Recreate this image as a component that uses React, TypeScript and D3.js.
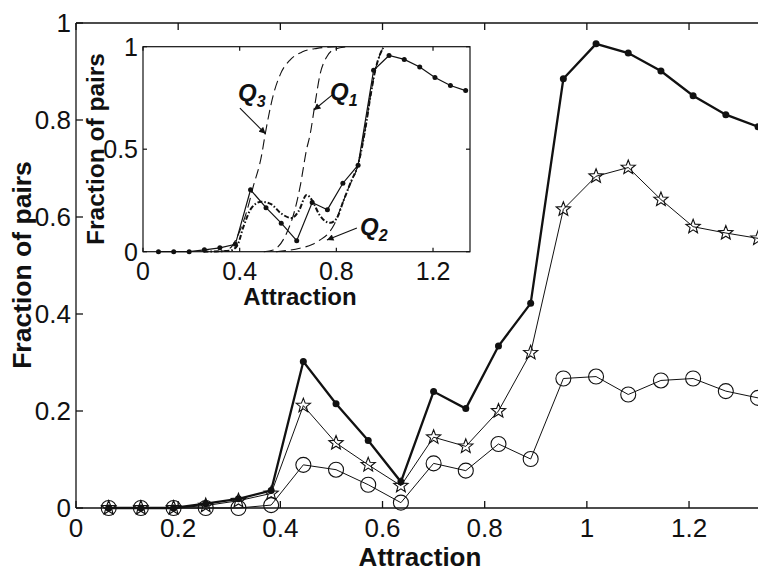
import React from "react";
import * as d3 from "d3";

// attraction values shared by the three measured series
const attraction = [0.064, 0.127, 0.191, 0.254, 0.318, 0.382, 0.445, 0.509, 0.572, 0.636, 0.7, 0.763, 0.827, 0.89, 0.954, 1.018, 1.081, 1.145, 1.208, 1.272, 1.335];
const dotsSeries = [0, 0, 0, 0.009, 0.019, 0.036, 0.302, 0.215, 0.139, 0.054, 0.24, 0.205, 0.334, 0.422, 0.885, 0.957, 0.938, 0.901, 0.85, 0.811, 0.786];
const starSeries = [0, 0, 0, 0.005, 0.015, 0.03, 0.211, 0.134, 0.089, 0.046, 0.146, 0.127, 0.2, 0.32, 0.616, 0.684, 0.702, 0.636, 0.58, 0.567, 0.556];
const circleSeries = [0, 0, 0, 0, 0, 0.006, 0.089, 0.079, 0.048, 0.011, 0.092, 0.077, 0.132, 0.101, 0.267, 0.271, 0.234, 0.263, 0.267, 0.241, 0.227];

// inset curves as [attraction, fraction]
const q3Curve = [[0.3, 0], [0.34, 0.005], [0.37, 0.03], [0.4, 0.1], [0.43, 0.2], [0.456, 0.317], [0.491, 0.472], [0.505, 0.569], [0.539, 0.764], [0.57, 0.87], [0.608, 0.935], [0.66, 0.975], [0.72, 0.992], [0.8, 1]];
const q1Curve = [[0.5, 0], [0.539, 0.008], [0.594, 0.09], [0.625, 0.19], [0.65, 0.317], [0.677, 0.5], [0.691, 0.569], [0.711, 0.716], [0.732, 0.862], [0.76, 0.95], [0.787, 0.984], [0.85, 1]];
const q2Curve = [[0.55, 0], [0.649, 0.017], [0.7, 0.035], [0.732, 0.057], [0.767, 0.09], [0.79, 0.13], [0.82, 0.22], [0.85, 0.31], [0.891, 0.43], [0.92, 0.6], [0.94, 0.75], [0.96, 0.88], [0.98, 0.96], [0.994, 0.995]];
const sumCurve = [[0.25, 0], [0.36, 0.005], [0.39, 0.03], [0.415, 0.12], [0.45, 0.215], [0.49, 0.244], [0.53, 0.232], [0.57, 0.188], [0.615, 0.164], [0.645, 0.2], [0.677, 0.277], [0.7, 0.25], [0.73, 0.18], [0.774, 0.141], [0.8, 0.16], [0.83, 0.25], [0.86, 0.34], [0.891, 0.43], [0.92, 0.6], [0.94, 0.75], [0.96, 0.88], [0.98, 0.96], [0.994, 0.995]];

const mainXTicks = [0, 0.2, 0.4, 0.6, 0.8, 1, 1.2];
const mainYTicks = [0, 0.2, 0.4, 0.6, 0.8, 1];
const insetXTicks = [0, 0.4, 0.8, 1.2];
const insetYTicks = [0, 0.5, 1];

// Q labels: [name, sub, labelX, labelY, arrowFromX, arrowFromY, arrowToX, arrowToY]
const qLabels = [
  ["Q", "3", 0.393, 0.735, 0.401, 0.7, 0.507, 0.575],
  ["Q", "1", 0.774, 0.74, 0.782, 0.764, 0.707, 0.691],
  ["Q", "2", 0.898, 0.081, 0.885, 0.116, 0.761, 0.057],
];

const FONT = "'Liberation Sans', Arial, Helvetica, sans-serif";
const INK = "#111";

function starPath(ro: number, ri: number) {
  const pts: string[] = [];
  for (let i = 0; i < 10; i++) {
    const r = i % 2 === 0 ? ro : ri;
    const a = -Math.PI / 2 + (i * Math.PI) / 5;
    pts.push(`${(r * Math.cos(a)).toFixed(2)},${(r * Math.sin(a)).toFixed(2)}`);
  }
  return "M" + pts.join("L") + "Z";
}

export default function App() {
  const W = 758;
  const H = 573;

  const x = d3.scaleLinear().domain([0, 1.335]).range([76, 758]);
  const y = d3.scaleLinear().domain([0, 1]).range([508, 23]);

  const xi = d3.scaleLinear().domain([0, 1.353]).range([143, 470]);
  const yi = d3.scaleLinear().domain([0, 1]).range([251.7, 46.7]);

  const mainLine = (vals: number[]) =>
    d3.line<number>().x((d, i) => x(attraction[i])).y((d) => y(d))(vals) || "";
  const insetData = d3.line<number>().x((d, i) => xi(attraction[i])).y((d) => yi(d));
  const insetCurve = d3
    .line<number[]>()
    .x((d) => xi(d[0]))
    .y((d) => yi(d[1]))
    .curve(d3.curveMonotoneX);

  const star = starPath(7.5, 3.2);
  const tick = 7;
  const itick = 4;

  return (
    <svg
      width={W}
      height={H}
      style={{ position: "absolute", left: 0, top: 0, background: "#fff" }}
      fontFamily={FONT}
    >
      <defs>
        <marker id="ah" viewBox="0 0 10 10" refX="10" refY="5" markerWidth="7" markerHeight="6" orient="auto">
          <path d="M0,0L10,5L0,10Z" fill={INK} />
        </marker>
        <clipPath id="mainClip">
          <rect x={0} y={0} width={W} height={H} />
        </clipPath>
      </defs>
      <rect x={0} y={0} width={W} height={H} fill="#fff" />

      {/* main axes */}
      <g stroke={INK} strokeWidth={1.3} fill="none">
        <line x1={x(0)} x2={W} y1={y(0)} y2={y(0)} />
        <line x1={x(0)} x2={W} y1={y(1)} y2={y(1)} />
        <line x1={x(0)} x2={x(0)} y1={y(0)} y2={y(1)} />
        {mainXTicks.map((t) => (
          <g key={"mx" + t}>
            <line x1={x(t)} x2={x(t)} y1={y(0)} y2={y(0) - tick} />
            <line x1={x(t)} x2={x(t)} y1={y(1)} y2={y(1) + tick} />
          </g>
        ))}
        {mainYTicks.map((t) => (
          <line key={"my" + t} x1={x(0)} x2={x(0) + tick} y1={y(t)} y2={y(t)} />
        ))}
      </g>
      <g fontSize={26} fill={INK}>
        {mainXTicks.map((t) => (
          <text key={"mxl" + t} x={x(t)} y={537} textAnchor="middle">
            {String(t)}
          </text>
        ))}
        {mainYTicks.map((t) => (
          <text key={"myl" + t} x={71} y={y(t) + 9} textAnchor="end">
            {String(t)}
          </text>
        ))}
      </g>
      <text x={420} y={566} textAnchor="middle" fontSize={26} fontWeight="bold" fill={INK}>
        Attraction
      </text>
      <text transform="translate(31,265) rotate(-90)" textAnchor="middle" fontSize={26.5} fontWeight="bold" fill={INK}>
        Fraction of pairs
      </text>

      {/* main series */}
      <g clipPath="url(#mainClip)">
        <path d={mainLine(circleSeries)} fill="none" stroke={INK} strokeWidth={1} />
        <path d={mainLine(starSeries)} fill="none" stroke={INK} strokeWidth={1} />
        <path d={mainLine(dotsSeries)} fill="none" stroke={INK} strokeWidth={2.3} />
        {circleSeries.map((v, i) => (
          <circle key={"c" + i} cx={x(attraction[i])} cy={y(v)} r={7.5} fill="none" stroke={INK} strokeWidth={1.1} />
        ))}
        {starSeries.map((v, i) => (
          <path key={"s" + i} d={star} transform={`translate(${x(attraction[i])},${y(v)})`} fill="none" stroke={INK} strokeWidth={1.1} />
        ))}
        {dotsSeries.map((v, i) => (
          <circle key={"d" + i} cx={x(attraction[i])} cy={y(v)} r={3.5} fill={INK} />
        ))}
      </g>

      {/* inset */}
      <rect x={xi(0)} y={yi(1)} width={xi(1.353) - xi(0)} height={yi(0) - yi(1)} fill="#fff" />
      <g fill="none" stroke={INK}>
        <path d={insetCurve(q3Curve) || ""} strokeWidth={1.1} strokeDasharray="10,5" />
        <path d={insetCurve(q1Curve) || ""} strokeWidth={1.1} strokeDasharray="10,5" />
        <path d={insetCurve(q2Curve) || ""} strokeWidth={1.1} strokeDasharray="10,5" />
        <path d={insetCurve(sumCurve) || ""} strokeWidth={2} strokeDasharray="5,2,1.5,2" />
        <path d={insetData(dotsSeries) || ""} strokeWidth={1.2} />
      </g>
      {dotsSeries.map((v, i) => (
        <circle key={"id" + i} cx={xi(attraction[i])} cy={yi(v)} r={2.5} fill={INK} />
      ))}
      <g stroke={INK} strokeWidth={1.2} fill="none">
        <rect x={xi(0)} y={yi(1)} width={xi(1.353) - xi(0)} height={yi(0) - yi(1)} />
        {insetXTicks.map((t) => (
          <g key={"ix" + t}>
            <line x1={xi(t)} x2={xi(t)} y1={yi(0)} y2={yi(0) - itick} />
            <line x1={xi(t)} x2={xi(t)} y1={yi(1)} y2={yi(1) + itick} />
          </g>
        ))}
        {insetYTicks.map((t) => (
          <g key={"iy" + t}>
            <line x1={xi(0)} x2={xi(0) + itick} y1={yi(t)} y2={yi(t)} />
            <line x1={xi(1.353)} x2={xi(1.353) - itick} y1={yi(t)} y2={yi(t)} />
          </g>
        ))}
      </g>
      <g fontSize={25} fill={INK}>
        {insetXTicks.map((t) => (
          <text key={"ixl" + t} x={xi(t)} y={280} textAnchor="middle">
            {String(t)}
          </text>
        ))}
        {insetYTicks.map((t) => (
          <text key={"iyl" + t} x={138} y={yi(t) + 9} textAnchor="end">
            {String(t)}
          </text>
        ))}
      </g>
      <text x={300} y={305} textAnchor="middle" fontSize={24} fontWeight="bold" fill={INK}>
        Attraction
      </text>
      <text transform="translate(104,149) rotate(-90)" textAnchor="middle" fontSize={24.5} fontWeight="bold" fill={INK}>
        Fraction of pairs
      </text>

      {/* Q annotations */}
      {qLabels.map((q) => {
        const [name, sub, lx, ly, fx, fy, tx, ty] = q as [string, string, number, number, number, number, number, number];
        return (
          <g key={name + sub}>
            <line x1={xi(fx)} y1={yi(fy)} x2={xi(tx)} y2={yi(ty)} stroke={INK} strokeWidth={1.1} markerEnd="url(#ah)" />
            <text x={xi(lx)} y={yi(ly)} fontSize={24} fontWeight="bold" fontStyle="italic" fill={INK}>
              {name}
              <tspan fontSize={16} dy={6}>
                {sub}
              </tspan>
            </text>
          </g>
        );
      })}
    </svg>
  );
}
